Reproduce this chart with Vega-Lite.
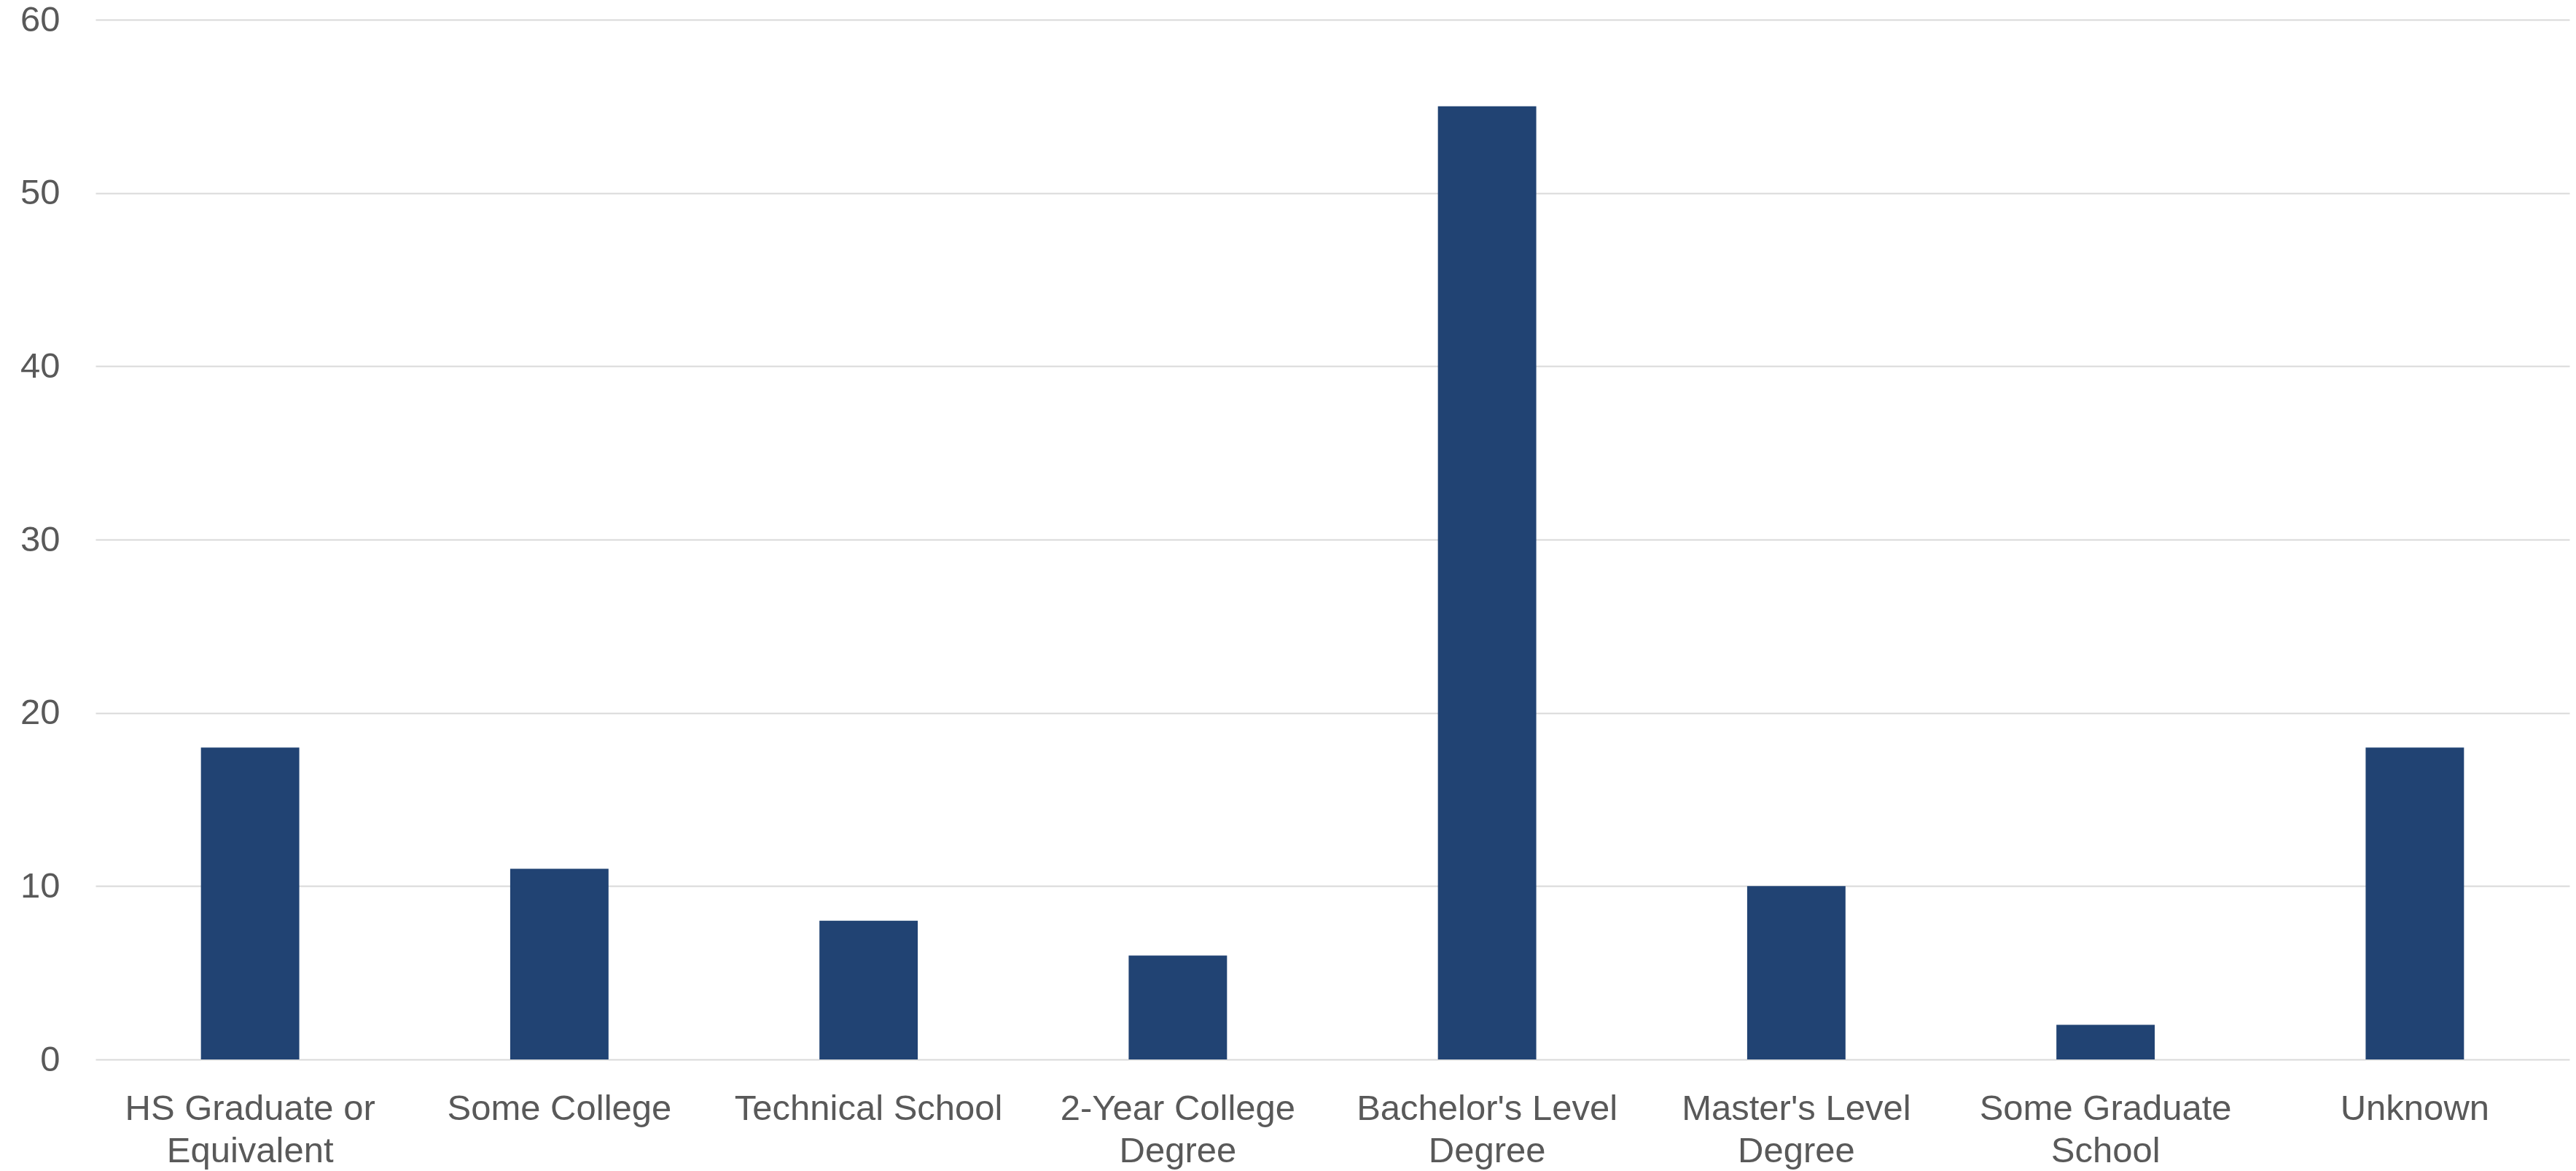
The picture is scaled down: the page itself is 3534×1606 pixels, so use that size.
{
  "$schema": "https://vega.github.io/schema/vega-lite/v6.json",
  "width": 3394,
  "height": 1426,
  "autosize": {"type": "none"},
  "padding": {"left": 131, "top": 27, "right": 9, "bottom": 153},
  "background": "white",
  "data": {
    "values": [
      {"category": "HS Graduate or Equivalent", "count": 18},
      {"category": "Some College", "count": 11},
      {"category": "Technical School", "count": 8},
      {"category": "2-Year College Degree", "count": 6},
      {"category": "Bachelor's Level Degree", "count": 55},
      {"category": "Master's Level Degree", "count": 10},
      {"category": "Some Graduate School", "count": 2},
      {"category": "Unknown", "count": 18}
    ]
  },
  "mark": {"type": "bar", "color": "#214373"},
  "encoding": {
    "x": {
      "field": "category",
      "type": "nominal",
      "sort": null,
      "scale": {"paddingInner": 0.682, "paddingOuter": 0.341},
      "axis": {
        "title": null,
        "labelAngle": 0,
        "domain": false,
        "ticks": false,
        "labelFont": "Liberation Sans",
        "labelFontSize": 49,
        "labelColor": "#595959",
        "labelPadding": 43,
        "labelLineHeight": 58,
        "labelLimit": 0,
        "labelExpr": "datum.value == 'HS Graduate or Equivalent' ? ['HS Graduate or', 'Equivalent'] : datum.value == '2-Year College Degree' ? ['2-Year College', 'Degree'] : datum.value == \"Bachelor's Level Degree\" ? [\"Bachelor's Level\", 'Degree'] : datum.value == \"Master's Level Degree\" ? [\"Master's Level\", 'Degree'] : datum.value == 'Some Graduate School' ? ['Some Graduate', 'School'] : datum.value"
      }
    },
    "y": {
      "field": "count",
      "type": "quantitative",
      "scale": {"domain": [0, 60], "nice": false},
      "axis": {
        "title": null,
        "values": [0, 10, 20, 30, 40, 50, 60],
        "domain": false,
        "ticks": false,
        "grid": true,
        "gridColor": "#D9D9D9",
        "gridWidth": 2,
        "labelFont": "Liberation Sans",
        "labelFontSize": 49,
        "labelColor": "#595959",
        "labelPadding": 49
      }
    }
  },
  "config": {"view": {"stroke": null}}
}
